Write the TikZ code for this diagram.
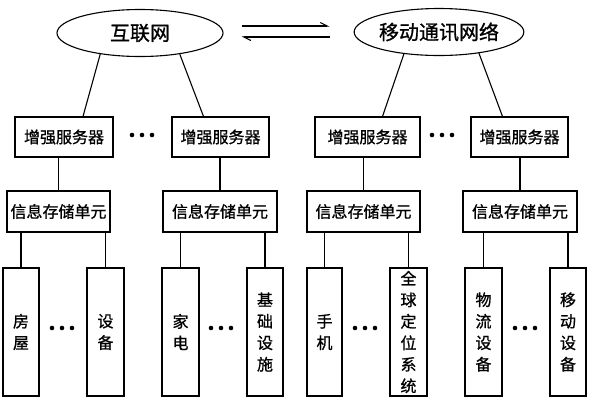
\documentclass[tikz,border=0pt]{standalone}
\usepackage{fontspec}
\setmainfont{Noto Sans CJK SC}[FakeBold=0.9]
\usetikzlibrary{shapes.geometric,arrows.meta,calc}
\begin{document}
\begin{tikzpicture}[x=1pt,y=1pt,
  every node/.style={inner sep=0pt},
  net/.style={draw,ellipse,line width=1.1pt,font=\fontsize{20}{24}\selectfont},
  srv/.style={draw,rectangle,line width=1.1pt,minimum height=40pt,font=\fontsize{16}{20}\selectfont},
  mem/.style={draw,rectangle,line width=1.1pt,minimum height=41pt,font=\fontsize{16}{20}\selectfont},
  leaf/.style={draw,rectangle,line width=1.1pt,minimum height=128pt,align=center,font=\fontsize{16}{21.5}\selectfont},
  link/.style={line width=1.1pt},
  harp/.style={line width=1.1pt,-{Straight Barb[left,length=7pt,width=7pt]}},
  dotmark/.style={fill=black}
]
\useasboundingbox (0,0) rectangle (589,-400);

% networks
\node[net,minimum width=166pt,minimum height=47pt] (e1) at (140,-33) {互联网};
\node[net,minimum width=168pt,minimum height=47pt] (e2) at (439,-32) {移动通讯网络};

% harpoons
\coordinate (h1a) at ($(e1.east)+(18,7)$);
\coordinate (h1b) at ($(e2.west)+(-24,6)$);
\coordinate (h2a) at ($(e1.east)+(18,-4)$);
\coordinate (h2b) at ($(e2.west)+(-24,-5)$);
\draw[harp] (h1a) -- (h1b);
\draw[harp] (h2b) -- (h2a);

% servers
\node[srv,minimum width=98pt] (s1) at (64,-137) {增强服务器};
\node[srv,minimum width=97pt] (s2) at (220.5,-137) {增强服务器};
\node[srv,minimum width=105pt] (s3) at (367.5,-137) {增强服务器};
\node[srv,minimum width=97pt] (s4) at (519.5,-137) {增强服务器};

% storage
\node[mem,minimum width=103pt] (m1) at (58.5,-211.5) {信息存储单元};
\node[mem,minimum width=114pt] (m2) at (220,-211.5) {信息存储单元};
\node[mem,minimum width=113pt] (m3) at (363.5,-211.5) {信息存储单元};
\node[mem,minimum width=114pt] (m4) at (520,-211.5) {信息存储单元};

% leaves
\node[leaf,minimum width=36pt] (l1) at (21,-332) {房\\屋};
\node[leaf,minimum width=37pt] (l2) at (105.5,-332) {设\\备};
\node[leaf,minimum width=37pt] (l3) at (180.5,-332) {家\\电};
\node[leaf,minimum width=36pt] (l4) at (265,-332) {基\\础\\设\\施};
\node[leaf,minimum width=35pt] (l5) at (324.5,-332) {手\\机};
\node[leaf,minimum width=37pt] (l6) at (408.5,-332) {全\\球\\定\\位\\系\\统};
\node[leaf,minimum width=37pt] (l7) at (483.5,-332) {物\\流\\设\\备};
\node[leaf,minimum width=36pt] (l8) at (568,-332) {移\\动\\设\\备};

% network to server links
\draw[link] (e1.208) -- ($(s1.north)+(19,0)$);
\draw[link] (e1.-28) -- ($(s2.north)+(-17,0)$);
\draw[link] (e2.212) -- ($(s3.north)+(15,0)$);
\draw[link] (e2.-28) -- ($(s4.north)+(-17,0)$);

% server to storage links
\foreach \i in {1,2,3,4}{
  \draw[link] (m\i.north) -- (m\i.north |- s\i.south);
}

% storage to leaf links
\draw[link] (l1.north) -- (l1.north |- m1.south);
\draw[link] (l2.north) -- (l2.north |- m1.south);
\draw[link] (l3.north) -- (l3.north |- m2.south);
\draw[link] (l4.north) -- (l4.north |- m2.south);
\draw[link] (l5.north) -- (l5.north |- m3.south);
\draw[link] (l6.north) -- (l6.north |- m3.south);
\draw[link] (l7.north) -- (l7.north |- m4.south);
\draw[link] (l8.north) -- (l8.north |- m4.south);

% ellipsis dots
\foreach \cx/\cy in {142/-135,442/-135,62/-328,221/-328,365/-328,525/-328}{
  \foreach \d in {-10,0,10}{
    \fill[dotmark] (\cx+\d,\cy) circle (2.3pt);
  }
}
\end{tikzpicture}
\end{document}
